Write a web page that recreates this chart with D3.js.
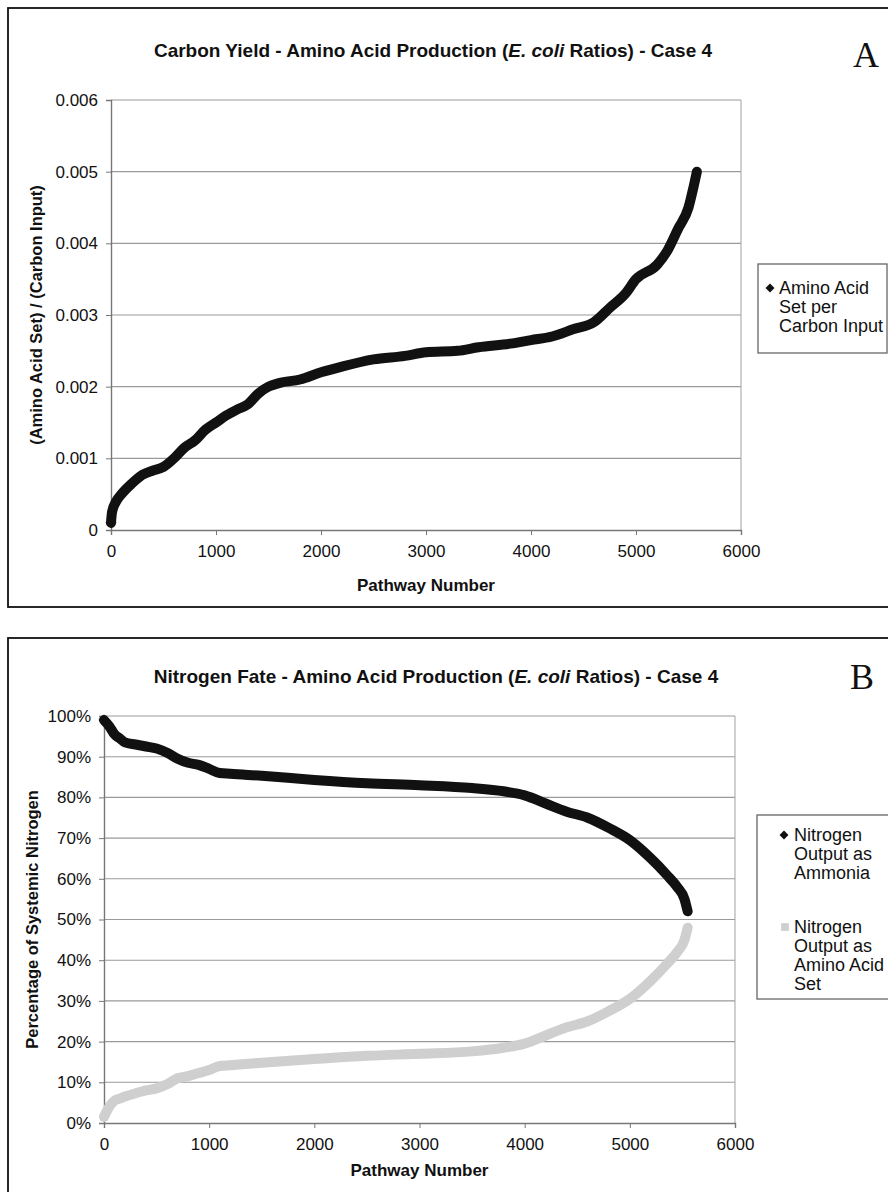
<!DOCTYPE html>
<html>
<head>
<meta charset="utf-8">
<script src="https://cdn.jsdelivr.net/npm/d3@7"></script>
<style>
	body { margin: 0; background: #fff; }
	svg { display: block; font-family: "Liberation Sans", Arial, sans-serif; }
</style>
</head>
<body>
<svg id="chart" width="888" height="1192"></svg>
<script>
// ---- data ----
const carbonX = [0, 10, 50, 100, 200, 300, 400, 500, 600, 700, 800, 900, 1000, 1100, 1200, 1300, 1400, 1500, 1600, 1800, 2000, 2200, 2500, 2800, 3000, 3300, 3500, 3800, 4000, 4200, 4400, 4600, 4750, 4900, 5000, 5200, 5300, 5400, 5500, 5550, 5580];
const carbonY = [0.0001, 0.00025, 0.0004, 0.0005, 0.00065, 0.00077, 0.00083, 0.00088, 0.001, 0.00115, 0.00125, 0.0014, 0.0015, 0.0016, 0.00168, 0.00175, 0.0019, 0.002, 0.00205, 0.0021, 0.0022, 0.00228, 0.00238, 0.00243, 0.00248, 0.0025, 0.00255, 0.0026, 0.00265, 0.0027, 0.0028, 0.0029, 0.0031, 0.0033, 0.0035, 0.0037, 0.0039, 0.0042, 0.0045, 0.0048, 0.005];

const nitroX = [0, 50, 100, 150, 200, 300, 400, 500, 600, 700, 800, 900, 1000, 1100, 1200, 1500, 2000, 2500, 3000, 3500, 3800, 4000, 4200, 4400, 4600, 4800, 5000, 5200, 5350, 5450, 5520, 5550];
const ammonia = [0.99, 0.975, 0.955, 0.945, 0.935, 0.93, 0.925, 0.92, 0.91, 0.895, 0.885, 0.88, 0.87, 0.86, 0.858, 0.853, 0.843, 0.835, 0.83, 0.823, 0.815, 0.805, 0.785, 0.765, 0.75, 0.725, 0.695, 0.65, 0.61, 0.58, 0.55, 0.52];
const aminoSet = [0.015, 0.04, 0.055, 0.06, 0.065, 0.073, 0.08, 0.085, 0.095, 0.11, 0.115, 0.123, 0.13, 0.14, 0.142, 0.148, 0.157, 0.165, 0.17, 0.176, 0.185, 0.195, 0.215, 0.235, 0.25, 0.275, 0.305, 0.35, 0.39, 0.42, 0.45, 0.48];

const xTicks = [0, 1000, 2000, 3000, 4000, 5000, 6000];
const carbonTicks = [0, 0.001, 0.002, 0.003, 0.004, 0.005, 0.006];
const nitroTicks = [0, 0.1, 0.2, 0.3, 0.4, 0.5, 0.6, 0.7, 0.8, 0.9, 1.0];

const svg = d3.select("#chart");

// excel style marker: diamond = square turned 45deg
function marker(shape, size) {
	return d3.symbol().type(d3.symbolSquare).size(size)();
}

function drawPanel(p) {
	const g = svg.append("g");
	// outer frame (right edge is cut off in the scan)
	g.append("rect")
		.attr("x", p.box[0]).attr("y", p.box[1])
		.attr("width", p.box[2]).attr("height", p.box[3])
		.attr("fill", "none").attr("stroke", "#111").attr("stroke-width", 1.8);

	const x = d3.scaleLinear().domain([0, 6000]).range([p.left, p.right]);
	const y = d3.scaleLinear().domain(p.yDomain).range([p.bottom, p.top]);

	// gridlines + plot area right edge
	g.append("g").selectAll("line").data(p.yTicks.slice(1)).join("line")
		.attr("x1", p.left).attr("x2", p.right)
		.attr("y1", d => y(d)).attr("y2", d => y(d))
		.attr("stroke", "#9a9a9a").attr("stroke-width", 1.1);
	g.append("line")
		.attr("x1", p.right).attr("x2", p.right).attr("y1", p.top).attr("y2", p.bottom)
		.attr("stroke", "#aaa").attr("stroke-width", 1.1);

	const xAxis = g.append("g")
		.attr("transform", `translate(0,${p.bottom})`)
		.call(d3.axisBottom(x).tickValues(xTicks).tickSize(5).tickPadding(10).tickFormat(d3.format("d")));
	const yAxis = g.append("g")
		.attr("transform", `translate(${p.left},0)`)
		.call(d3.axisLeft(y).tickValues(p.yTicks).tickSize(5).tickPadding(8).tickFormat(p.yFormat));
	[xAxis, yAxis].forEach(a => {
		a.select(".domain").attr("stroke", "#777").attr("stroke-width", 1.4);
		a.selectAll(".tick line").attr("stroke", "#777");
		a.selectAll("text").attr("font-size", 17).attr("fill", "#111")
			.attr("font-family", "Liberation Sans, Arial, sans-serif");
	});

	// title, with italic E. coli
	const t = g.append("text")
		.attr("x", p.titleX).attr("y", p.titleY)
		.attr("text-anchor", "middle")
		.attr("font-size", 19).attr("font-weight", "bold").attr("fill", "#111");
	t.append("tspan").text(p.titleA);
	t.append("tspan").attr("font-style", "italic").text("E. coli");
	t.append("tspan").text(p.titleB);

	g.append("text")
		.attr("x", p.letter[0]).attr("y", p.letter[1])
		.attr("font-family", "Liberation Serif, Times New Roman, serif")
		.attr("font-size", 36).attr("fill", "#111")
		.text(p.letterText);

	g.append("text")
		.attr("x", (p.left + p.right) / 2).attr("y", p.xLabelY)
		.attr("text-anchor", "middle")
		.attr("font-size", 17).attr("font-weight", "bold").attr("fill", "#111")
		.text("Pathway Number");

	g.append("text")
		.attr("transform", `translate(${p.yLabelX},${(p.top + p.bottom) / 2}) rotate(-90)`)
		.attr("text-anchor", "middle")
		.attr("font-size", 16.5).attr("font-weight", "bold").attr("fill", "#111")
		.text(p.yLabel);

	// series: markers are so dense they read as a thick trail
	const line = d3.line().x(d => x(d[0])).y(d => y(d[1])).curve(d3.curveMonotoneX);
	p.series.forEach(s => {
		const pts = s.xs.map((v, i) => [v, s.ys[i]]);
		g.append("path")
			.attr("d", line(pts))
			.attr("fill", "none").attr("stroke", s.color)
			.attr("stroke-width", 10).attr("stroke-linecap", "round").attr("stroke-linejoin", "round");
		g.append("path")
			.attr("d", marker(s.shape, 60))
			.attr("transform", `translate(${x(pts[0][0])},${y(pts[0][1])})` + (s.shape === "diamond" ? " rotate(45)" : ""))
			.attr("fill", s.color);
	});

	// legend box
	g.append("rect")
		.attr("x", p.legend[0]).attr("y", p.legend[1])
		.attr("width", p.legend[2]).attr("height", p.legend[3])
		.attr("fill", "#fff").attr("stroke", "#666").attr("stroke-width", 1.3);
	p.series.forEach(s => {
		const lg = g.append("g");
		lg.append("path")
			.attr("d", marker(s.shape, s.shape === "diamond" ? 40 : 60))
			.attr("transform", `translate(${s.legendMarker[0]},${s.legendMarker[1]})` + (s.shape === "diamond" ? " rotate(45)" : ""))
			.attr("fill", s.color);
		lg.append("text")
			.attr("x", s.legendText[0]).attr("y", s.legendText[1])
			.attr("font-size", 18).attr("fill", "#111")
			.selectAll("tspan").data(s.label).join("tspan")
			.attr("x", s.legendText[0]).attr("dy", (d, i) => i === 0 ? 0 : 19)
			.text(d => d);
	});
}

drawPanel({
	box: [8, 8, 900, 599],
	left: 111, right: 741, top: 100, bottom: 530,
	yDomain: [0, 0.006], yTicks: carbonTicks,
	yFormat: d => d === 0 ? "0" : d3.format(".3f")(d),
	titleX: 433, titleY: 57,
	titleA: "Carbon Yield - Amino Acid Production (", titleB: " Ratios) - Case 4",
	letter: [853, 67], letterText: "A",
	xLabelY: 591, yLabelX: 42,
	yLabel: "(Amino Acid Set) / (Carbon Input)",
	legend: [758, 264, 129, 89],
	series: [{
		xs: carbonX, ys: carbonY, color: "#111", shape: "diamond",
		legendMarker: [770, 288], legendText: [779, 294],
		label: ["Amino Acid", "Set per", "Carbon Input"]
	}]
});

drawPanel({
	box: [8, 638, 900, 570],
	left: 104, right: 735, top: 716, bottom: 1123,
	yDomain: [0, 1], yTicks: nitroTicks,
	yFormat: d3.format(".0%"),
	titleX: 436, titleY: 683,
	titleA: "Nitrogen Fate - Amino Acid Production (", titleB: " Ratios) - Case 4",
	letter: [850, 689], letterText: "B",
	xLabelY: 1176, yLabelX: 38,
	yLabel: "Percentage of Systemic Nitrogen",
	legend: [757, 815, 140, 184],
	series: [{
		xs: nitroX, ys: ammonia, color: "#111", shape: "diamond",
		legendMarker: [784, 835], legendText: [794, 841],
		label: ["Nitrogen", "Output as", "Ammonia"]
	}, {
		xs: nitroX, ys: aminoSet, color: "#cfcfcf", shape: "square",
		legendMarker: [785, 927], legendText: [794, 933],
		label: ["Nitrogen", "Output as", "Amino Acid", "Set"]
	}]
});
</script>
</body>
</html>
